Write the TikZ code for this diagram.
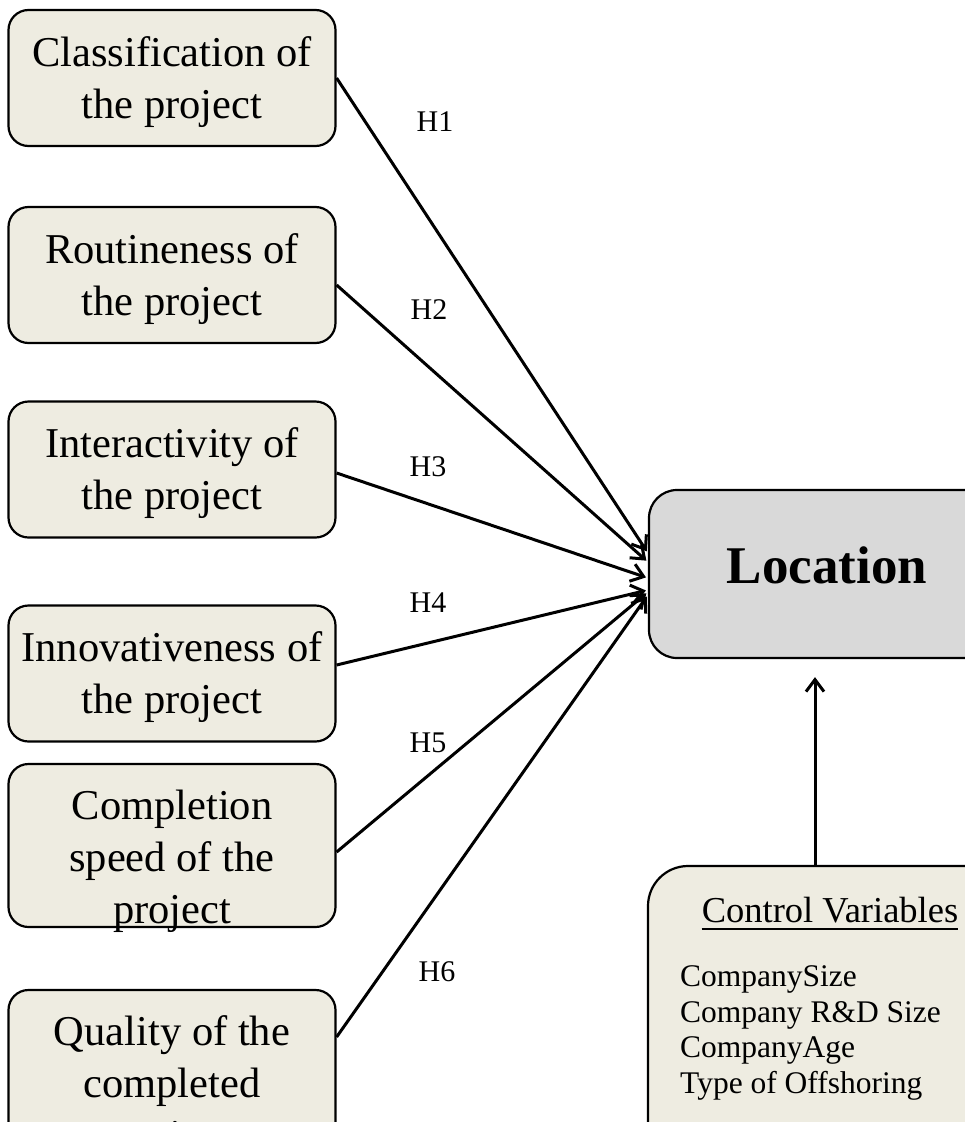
\documentclass[tikz,border=0pt]{standalone}
\usepackage{fontspec}
\setmainfont{Liberation Serif}
\usetikzlibrary{arrows.meta,calc}
\definecolor{boxfill}{HTML}{EEECE1}
\definecolor{locfill}{HTML}{D9D9D9}
\tikzset{
  factor/.style={draw,line width=2.2pt,rounded corners=20pt,fill=boxfill,minimum width=327pt,minimum height=136pt,inner sep=0pt,align=center,text height=80pt,text depth=0pt,font=\fontsize{42.5}{52}\selectfont},
  hyp/.style={line width=3pt,-{Straight Barb[length=12pt,width=18pt]},shorten >=2pt},
  hlab/.style={font=\fontsize{30}{36}\selectfont}
}
\begin{document}
\begin{tikzpicture}[x=1pt,y=-1pt]
\clip(0,0)rectangle(965,1122);
\node[factor](class)at(172,78){Classification of\\the project};
\node[factor](rout)at(172,275){Routineness of\\the project};
\node[factor](inter)at(172,469.5){Interactivity of\\the project};
\node[factor](innov)at(172,673.5){Innovativeness of\\the project};
\node[factor,minimum height=163pt,text height=155pt](speed)at(172,845.5){Completion\\speed of the\\project};
\node[factor,minimum height=163pt,text height=155pt](qual)at(172,1071.5){Quality of the\\completed\\project};
\node[draw,line width=2.2pt,rounded corners=28pt,fill=locfill,minimum width=356pt,minimum height=168pt,inner sep=0pt,text height=36pt,text depth=18pt,font=\fontsize{53}{60}\selectfont\bfseries](loc)at(827,574){Location};
\node[draw,line width=2.2pt,rounded corners=40pt,fill=boxfill,minimum width=364pt,minimum height=330pt](ctrl)at(830,1031){};
\node[anchor=base,inner sep=0pt,font=\fontsize{36.5}{42}\selectfont](ctrlhead)at(830,922){Control Variables};
\draw[line width=1.8pt]([yshift=-7pt]ctrlhead.base west)--([yshift=-7pt]ctrlhead.base east);
\node[anchor=base west,align=left,inner sep=0pt,font=\fontsize{31.5}{35.5}\selectfont](ctrllist)at(680,1093){CompanySize\\Company R\&D Size\\CompanyAge\\Type of Offshoring};
%arrows
\draw[hyp](class.east)--([yshift=21pt]loc.west);
\draw[hyp]([yshift=-10pt]rout.east)--([yshift=12pt]loc.west);
\draw[hyp]([yshift=-3.5pt]inter.east)--([yshift=-4pt]loc.west);
\draw[hyp]([yshift=8.5pt]innov.east)--([yshift=-16pt]loc.west);
\draw[hyp]([yshift=-6.5pt]speed.east)--([yshift=-18pt]loc.west);
\draw[hyp]([yshift=34.5pt]qual.east)--([yshift=-21pt]loc.west);
\draw[hyp,shorten >=18pt]([xshift=-15pt]ctrl.north)--([xshift=-12pt]loc.south);
%labels
\node[hlab](h1)at(435,122){H1};
\node[hlab](h2)at(429,310){H2};
\node[hlab](h3)at(428,467){H3};
\node[hlab](h4)at(428,603){H4};
\node[hlab](h5)at(428,743){H5};
\node[hlab](h6)at(437,972){H6};
\end{tikzpicture}
\end{document}
